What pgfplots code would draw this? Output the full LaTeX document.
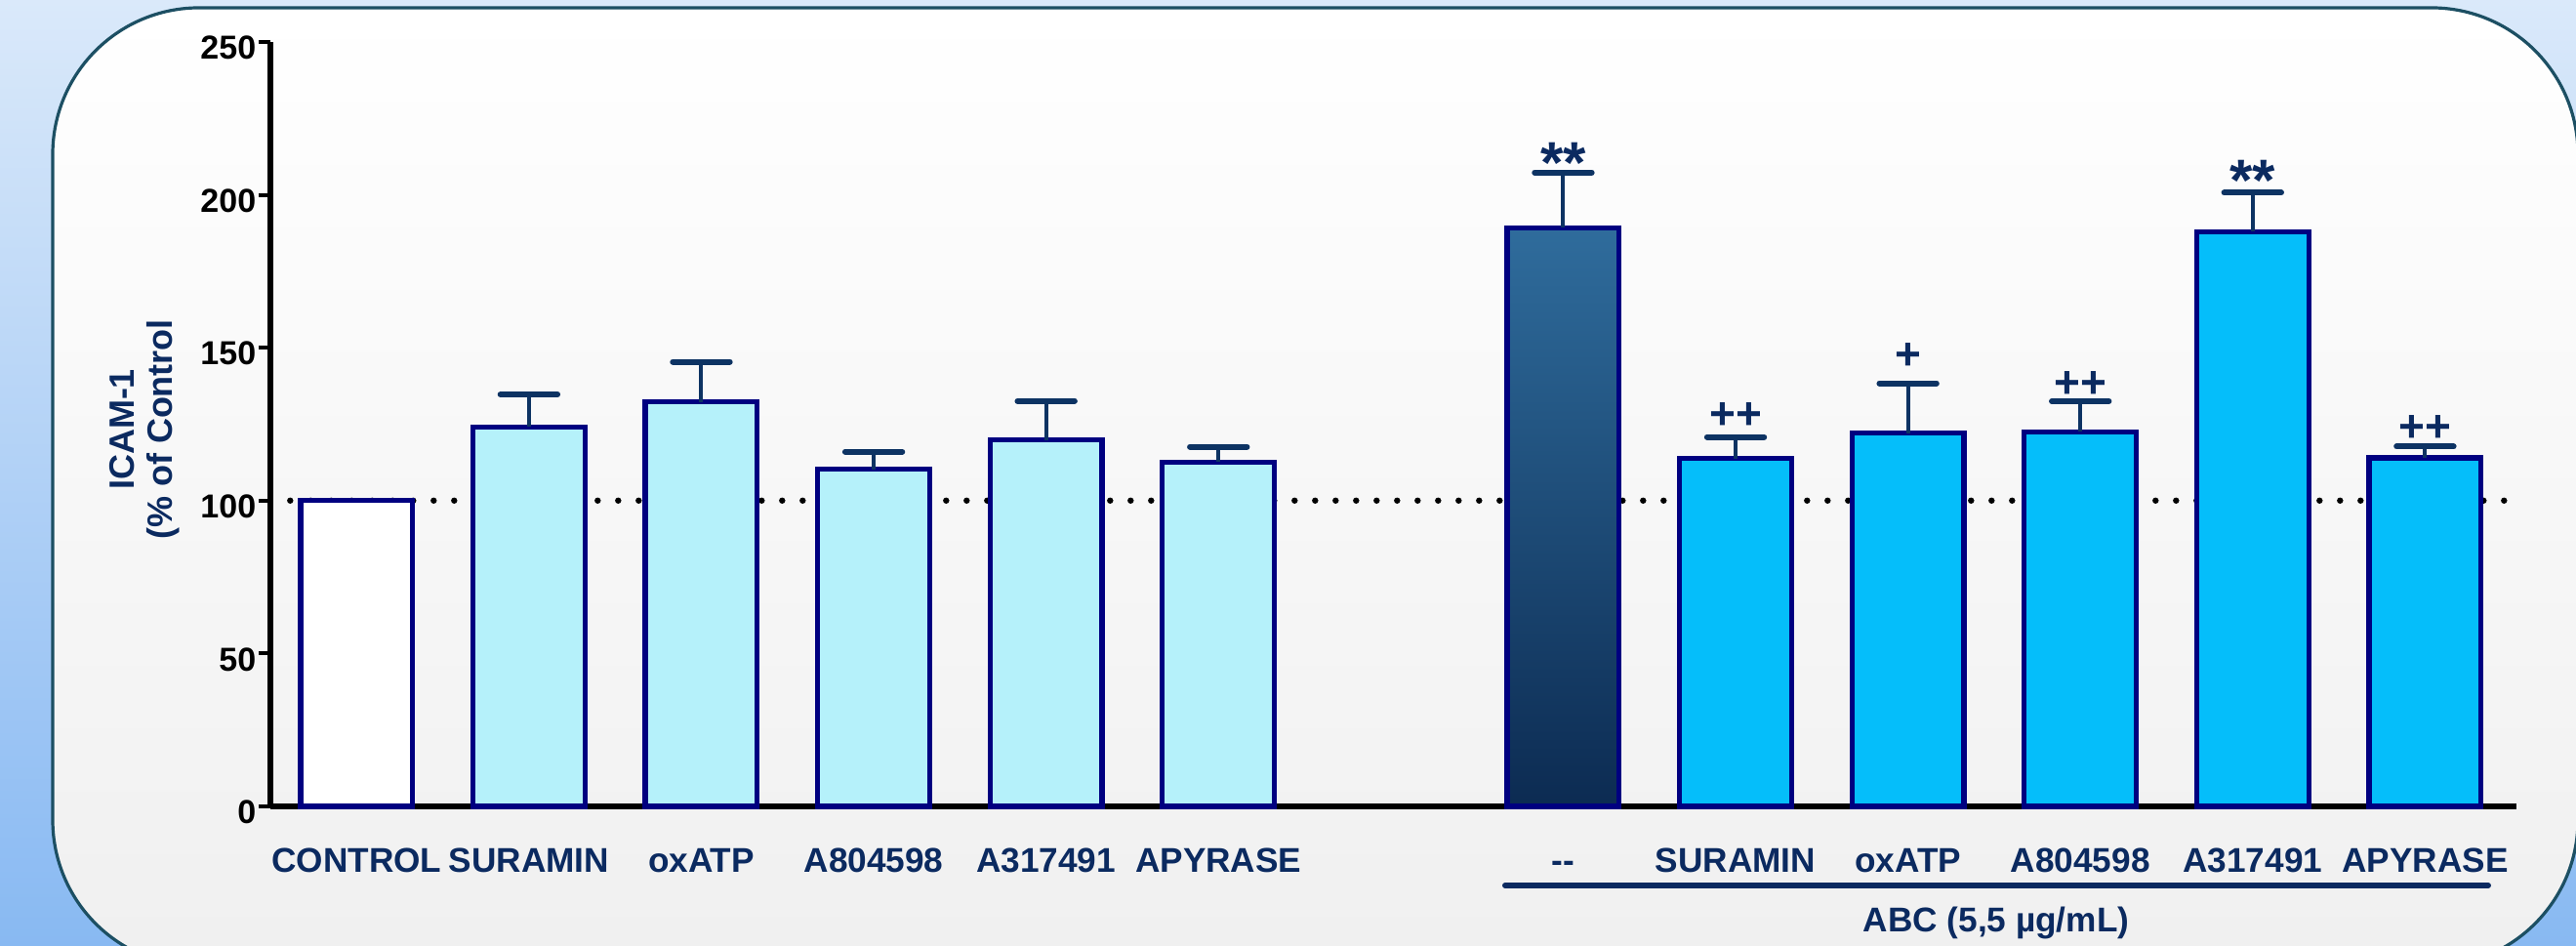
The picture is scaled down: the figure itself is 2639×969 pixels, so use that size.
\documentclass[border=0pt]{standalone}
\usepackage{fontspec}
\setmainfont{Liberation Sans}
\usepackage{pgfplots}
\usepackage{pgfplotstable}
\pgfplotsset{compat=1.18}
\definecolor{navyb}{RGB}{0,0,128}
\definecolor{lightcy}{HTML}{B5F1FA}
\definecolor{skyb}{HTML}{05BEFA}
\definecolor{dtop}{HTML}{2F6C9C}
\definecolor{dbot}{HTML}{0C2B52}
\definecolor{errc}{HTML}{0D3363}
\definecolor{txt}{HTML}{0B2A60}
\definecolor{bord}{HTML}{1C4F63}
\definecolor{bgtop}{HTML}{DAE9FA}
\definecolor{bgbot}{HTML}{88B9F2}

\pgfplotstableread{
x y e
1 124.1 10.6
2 132.3 13.1
3 110.2 5.8
4 119.8 12.8
5 112.6 5.0
}\groupone
\pgfplotstableread{
x y e
8 113.7 7.1
9 122.0 16.4
10 122.5 10.0
11 187.9 12.8
12 114.0 3.7
}\grouptwo
\pgfplotstableread{
x y e
7 189.2 18.1
}\abcalone

\begin{document}
\begin{tikzpicture}[x=0.25pt,y=0.25pt]
\useasboundingbox (0,0) rectangle (2639,969);
\begin{scope}
\clip (0,0) rectangle (2639,969);
\shade[top color=bgtop, bottom color=bgbot] (0,0) rectangle (2639,969);
\shadedraw[top color=white, bottom color=black!6, draw=bord, line width=0.8pt, rounded corners=37.5pt] (54,-21) rectangle (2641,961);
\end{scope}

\pgfplotsset{errstyle/.style={error bars/.cd, y dir=plus, y explicit,
  error bar style={line width=1pt, errc},
  error mark options={rotate=90, line width=1.5pt, errc, mark size=7.3pt, line cap=round}}}

\begin{axis}[
 at={(69.25pt,35.75pt)}, anchor=south west,
 scale only axis, width=575.25pt, height=195.75pt,
 xmin=-0.5, xmax=12.53, ymin=0, ymax=250,
 axis x line*=bottom, axis y line*=left,
 axis line style={line width=1.4pt, black, -},
 every outer x axis line/.append style={-},
 every outer y axis line/.append style={-},
 ytick={0,50,...,250},
 xtick={0,1,2,3,4,5,7,8,9,10,11,12},
 xticklabels={CONTROL,SURAMIN,oxATP,A804598,A317491,APYRASE,-{}-,SURAMIN,oxATP,A804598,A317491,APYRASE},
 xtick style={draw=none},
 ytick style={line width=1pt, black},
 tick align=outside, major tick length=3pt,
 yticklabel style={font=\fontsize{8.5}{10}\selectfont\bfseries, inner sep=0.5pt, yshift=-1.5pt},
 xticklabel style={font=\fontsize{8.8}{10}\selectfont\bfseries, text=txt, anchor=base, inner sep=0pt, yshift=-13.8pt},
 /pgf/number format/assume math mode=true,
 clip=false,
]
\addplot[black, line width=1.6pt, dash pattern=on 0pt off 5.25pt, line cap=round] coordinates {(-0.385,100) (12.49,100)};

\addplot[ybar, bar width=0.65, bar shift=0pt, draw=navyb, line width=1.3pt, fill=white] coordinates {(0,100)};

\addplot[ybar, bar width=0.65, bar shift=0pt, draw=navyb, line width=1.3pt, fill=lightcy, errstyle]
  table[x=x, y=y, y error=e] {\groupone};

\addplot[ybar, bar width=0.65, bar shift=0pt, draw=navyb, line width=1.3pt, top color=dtop, bottom color=dbot, errstyle]
  table[x=x, y=y, y error=e] {\abcalone};

\addplot[ybar, bar width=0.65, bar shift=0pt, draw=navyb, line width=1.3pt, fill=skyb, errstyle]
  table[x=x, y=y, y error=e] {\grouptwo};

\node[anchor=north, inner sep=0pt, text=txt, font=\fontsize{15}{15}\selectfont\bfseries] at (axis cs:7,217.4) {**};
\node[anchor=north, inner sep=0pt, text=txt, font=\fontsize{15}{15}\selectfont\bfseries] at (axis cs:11,211.6) {**};
\node[anchor=north, inner sep=0pt, text=txt, font=\fontsize{11.5}{12}\selectfont\bfseries] at (axis cs:8,132.3) {++};
\node[anchor=north, inner sep=0pt, text=txt, font=\fontsize{11.5}{12}\selectfont\bfseries] at (axis cs:9,151.8) {+};
\node[anchor=north, inner sep=0pt, text=txt, font=\fontsize{11.5}{12}\selectfont\bfseries] at (axis cs:10,142.6) {++};
\node[anchor=north, inner sep=0pt, text=txt, font=\fontsize{11.5}{12}\selectfont\bfseries] at (axis cs:12,128.0) {++};
\end{axis}

\node[rotate=90, align=center, text=txt, font=\fontsize{9}{9.75}\selectfont\bfseries] at (148,529) {ICAM-1\\(\% of Control};
\draw[txt, line width=1.5pt, line cap=round] (1542,62) -- (2549,62);
\node[anchor=base, inner sep=0pt, text=txt, font=\fontsize{8.8}{10}\selectfont\bfseries] at (2045,14) {ABC (5,5 µg/mL)};
\end{tikzpicture}
\end{document}
